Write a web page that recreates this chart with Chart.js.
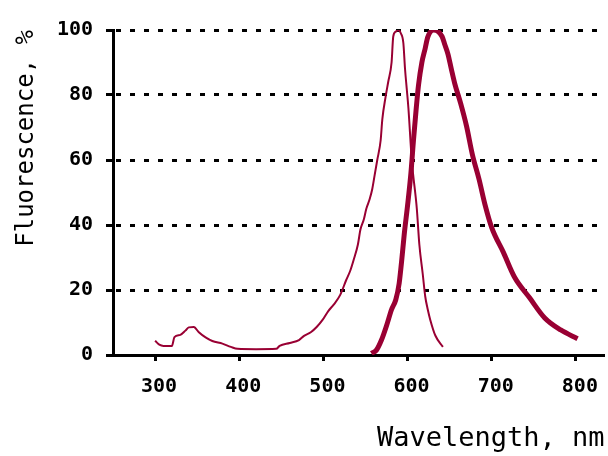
<!DOCTYPE html>
<html>
<head>
<meta charset="utf-8">
<script src="https://cdn.jsdelivr.net/npm/chart.js@4/dist/chart.umd.min.js"></script>
<style>
    html, body { margin: 0; padding: 0; background: #ffffff; }
    #wrap { width: 608px; height: 456px; }
</style>
</head>
<body>
<div id="wrap"><canvas id="spectrumChart" width="608" height="456"></canvas></div>
<script>
    // Spectre d'excitation (trait fin)
    var excitationNm = [300, 305, 310, 320, 323, 330, 336, 340, 346, 352, 360, 368, 380, 390, 398, 420, 444, 448, 460, 471,
        477, 485, 492, 499, 506, 512, 520, 527, 532, 536, 541, 544, 548, 551, 555, 558, 561, 564, 568, 570,
        574, 577, 581, 583, 586, 589, 592, 595, 597, 599, 601, 605, 611, 614, 618, 621, 624, 627, 633, 642];
    var excitationPct = [4.4, 3.2, 2.8, 2.8, 5.5, 6.2, 7.5, 8.5, 8.6, 7, 5.4, 4.3, 3.5, 2.5, 1.9, 1.8, 1.9, 2.8, 3.7, 4.6,
        5.9, 7, 8.6, 10.8, 13.6, 15.4, 18.5, 23, 26, 29.3, 34, 38.6, 41.7, 45, 48, 51, 55.5, 60, 66, 72.5,
        79.6, 84, 90, 98, 99.5, 100, 99, 96, 88, 82, 76, 60, 45, 34, 25, 18, 14, 10.8, 6, 2.5];

    // Spectre d'émission (trait épais)
    var emissionNm = [557, 563, 569, 575, 581, 586, 590, 593, 596, 600, 604, 607, 610, 613, 617, 621, 624, 631, 641, 644,
        648, 652, 656, 663, 670, 677, 685, 692, 700, 714, 727, 745, 763, 782, 802];
    var emissionPct = [0.5, 1.5, 4.6, 9, 14, 17, 22, 29, 37, 46, 56, 66, 75, 83, 90, 94.4, 97.8, 100, 98, 95.7,
        92.6, 88, 83.6, 77.5, 70.5, 61.7, 54, 46.3, 39.2, 31.5, 24, 17.6, 11.4, 7.7, 5];

    var xTicks = [300, 400, 500, 600, 700, 800];
    var yTicks = [0, 20, 40, 60, 80, 100];

    var xTitle = 'Wavelength, nm';
    var yTitle = 'Fluorescence, %';

    function toPoints(xs, ys) {
        return xs.map(function (x, i) { return {x: x, y: ys[i]}; });
    }

    var lineColor = '#990033';
    var monoFont = '"DejaVu Sans Mono", "Liberation Mono", monospace';

    new Chart(document.getElementById('spectrumChart').getContext('2d'), {
        type: 'line',
        data: {
            datasets: [{
                label: 'Emission',
                data: toPoints(emissionNm, emissionPct),
                borderColor: lineColor,
                borderWidth: 5,
                pointRadius: 0,
                cubicInterpolationMode: 'monotone',
                fill: false
            }, {
                label: 'Excitation',
                data: toPoints(excitationNm, excitationPct),
                borderColor: lineColor,
                borderWidth: 2,
                pointRadius: 0,
                cubicInterpolationMode: 'monotone',
                fill: false
            }]
        },
        options: {
            responsive: false,
            animation: false,
            devicePixelRatio: 1,
            layout: {
                padding: {top: 30, right: 1, bottom: 0, left: 0}
            },
            plugins: {
                legend: {display: false},
                title: {display: false},
                tooltip: {enabled: false}
            },
            scales: {
                x: {
                    type: 'linear',
                    min: 250,
                    max: 834,
                    afterBuildTicks: function (scale) {
                        scale.ticks = xTicks.map(function (v) { return {value: v}; });
                    },
                    afterFit: function (scale) {
                        scale.height = 101;
                    },
                    grid: {
                        drawOnChartArea: false,
                        drawTicks: true,
                        tickLength: 6,
                        tickWidth: 3,
                        tickColor: '#000000'
                    },
                    border: {display: true, color: '#000000', width: 3},
                    ticks: {
                        color: '#000000',
                        padding: 14,
                        labelOffset: 4,
                        maxRotation: 0,
                        font: {family: monoFont, size: 20, weight: 'bold'}
                    },
                    title: {
                        display: true,
                        text: xTitle,
                        align: 'end',
                        color: '#000000',
                        padding: {top: 0, bottom: 1},
                        font: {family: monoFont, size: 27}
                    }
                },
                y: {
                    type: 'linear',
                    min: 0,
                    max: 100,
                    afterBuildTicks: function (scale) {
                        scale.ticks = yTicks.map(function (v) { return {value: v}; });
                    },
                    afterFit: function (scale) {
                        scale.width = 113;
                    },
                    grid: {
                        color: '#000000',
                        lineWidth: 3,
                        drawTicks: true,
                        tickLength: 7,
                        tickWidth: 3,
                        tickColor: '#000000',
                        tickBorderDash: []
                    },
                    border: {display: true, color: '#000000', width: 3, dash: [5, 9], dashOffset: -1},
                    ticks: {
                        color: '#000000',
                        padding: 13,
                        font: {family: monoFont, size: 20, weight: 'bold'}
                    },
                    title: {
                        display: true,
                        text: yTitle,
                        align: 'end',
                        color: '#000000',
                        padding: {top: 12, bottom: 0},
                        font: {family: monoFont, size: 24}
                    }
                }
            }
        }
    });
</script>
</body>
</html>
